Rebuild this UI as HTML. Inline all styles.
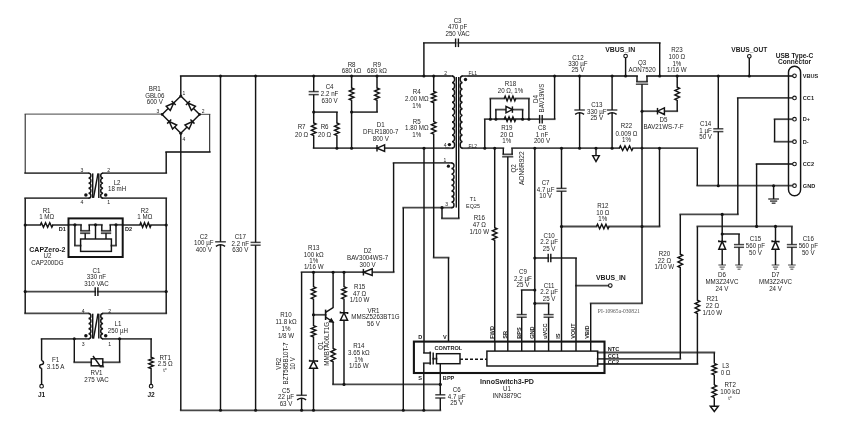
<!DOCTYPE html>
<html><head><meta charset="utf-8"><title>Schematic</title>
<style>
html,body{margin:0;padding:0;background:#fff;}
body{width:853px;height:437px;overflow:hidden;}
svg{display:block;will-change:transform;}
text{font-family:"Liberation Sans",sans-serif;fill:#1c1c1c;stroke:none;}
</style></head>
<body>
<svg width="853" height="437" viewBox="0 0 853 437">
<rect width="853" height="437" fill="#fff"/>
<g fill="none" stroke="#141414" stroke-width="1.45" stroke-linejoin="miter" stroke-linecap="butt">
<g stroke="#474747" stroke-width="1.8" stroke-linecap="square">
<path d="M74.3,362.3 L91.2,362.3"/>
<path d="M102.8,362.3 L119.6,362.3"/>
<path d="M100.6,366.6 L103.2,366.6"/>
<path d="M25.2,313.4 L88.5,313.4"/>
<path d="M41.6,338.9 L88.5,338.9"/>
<path d="M103.1,313.4 L166.2,313.4"/>
<path d="M103.1,338.9 L151.1,338.9"/>
<path d="M25.2,291.6 L95.2,291.6"/>
<path d="M97.9,291.6 L166.2,291.6"/>
<path d="M25.2,225 L40.3,225"/>
<path d="M52.9,225 L68.5,225"/>
<path d="M122.7,225 L139.8,225"/>
<path d="M151.1,225 L166.2,225"/>
<path d="M68.5,224.8 L81,224.8"/>
<path d="M89.3,224.8 L101.8,224.8"/>
<path d="M110.3,224.8 L122.7,224.8"/>
<path d="M81,230.8 L89.3,230.8"/>
<path d="M81,233.2 L89.3,233.2"/>
<path d="M101.8,230.8 L110.3,230.8"/>
<path d="M101.8,233.2 L110.3,233.2"/>
<path d="M74.9,245.6 L80.6,245.6"/>
<path d="M116,245.6 L111.4,245.6"/>
<path d="M25.2,173.1 L88.5,173.1"/>
<path d="M25.2,198.2 L88.5,198.2"/>
<path d="M103.1,173.1 L166.2,173.1"/>
<path d="M103.1,198.2 L166.2,198.2"/>
<path d="M25.2,114.2 L162.1,114.2" stroke-width="1.25" stroke="#6a6a6a"/>
<path d="M199.6,114.4 L209.7,114.4" stroke-width="1.25" stroke="#6a6a6a"/>
<path d="M209.7,152 L166.2,152"/>
<path d="M180.8,76 L450,76"/>
<path d="M180.8,410.3 L440.3,410.3"/>
<path d="M215.9,241.8 L225.1,241.8" stroke-width="1.5"/>
<path d="M251.3,242.4 L259.9,242.4" stroke-width="1.5"/>
<path d="M251.3,245.2 L259.9,245.2" stroke-width="1.5"/>
<path d="M309.4,91.6 L318,91.6" stroke-width="1.5"/>
<path d="M309.4,94.6 L318,94.6" stroke-width="1.5"/>
<path d="M313.7,112.1 L336.9,112.1"/>
<path d="M313.7,148.2 L377,148.2"/>
<path d="M384.6,148.2 L448.5,148.2"/>
<path d="M351.6,112.1 L377,112.1"/>
<path d="M423.9,42.8 L455.6,42.8"/>
<path d="M458.4,42.8 L659.7,42.8"/>
<path d="M433.7,257.6 L448.5,257.6"/>
<path d="M446,76 L452,76"/>
<path d="M452,148.2 L446,148.2"/>
<path d="M468.5,76 L462.6,76"/>
<path d="M462.6,148.2 L468.5,148.2"/>
<path d="M393.6,162.9 L451.4,162.9"/>
<path d="M451.4,207.7 L403.3,207.7"/>
<path d="M442,218.4 L458.7,218.4"/>
<path d="M393.6,272.2 L372.2,272.2"/>
<path d="M363.4,272.2 L301.6,272.2"/>
<path d="M297.1,395.3 L306.1,395.3" stroke-width="1.5"/>
<path d="M313.5,314.8 L325.6,314.8"/>
<path d="M333.1,384.4 L440.3,384.4"/>
<path d="M424,353 L430.2,353"/>
<path d="M430.2,363.2 L423.8,363.2"/>
<path d="M433.2,358.7 L436.5,358.7"/>
<path d="M436,394.8 L444.6,394.8" stroke-width="1.5"/>
<path d="M436,398 L444.6,398" stroke-width="1.5"/>
<path d="M597.7,352.5 L714.3,352.5"/>
<path d="M597.7,358.8 L680.3,358.8"/>
<path d="M597.7,364 L697.4,364"/>
<path d="M468.5,76 L637,76"/>
<path d="M637,81.7 L647,81.7"/>
<path d="M647,76 L792.6,76"/>
<path d="M636.6,84.2 L647.4,84.2" stroke-width="1.5"/>
<path d="M642,303.4 L590.7,303.4"/>
<path d="M642,111.2 L657.5,111.2"/>
<path d="M664.4,111.2 L677.2,111.2"/>
<path d="M484.8,119.2 L539.6,119.2"/>
<path d="M542.2,119.2 L554.6,119.2"/>
<path d="M495.9,119.2 L504.2,119.2"/>
<path d="M515.8,119.2 L522.6,119.2"/>
<path d="M490.4,98.5 L504.2,98.5"/>
<path d="M515.8,98.5 L528.9,98.5"/>
<path d="M495.9,109.6 L506,109.6"/>
<path d="M512.4,109.6 L522.6,109.6"/>
<path d="M468.5,148.2 L503.3,148.2"/>
<path d="M503.3,154.4 L512.1,154.4"/>
<path d="M502.9,156.8 L512.5,156.8" stroke-width="1.5"/>
<path d="M512.1,148.2 L619.2,148.2"/>
<path d="M633,148.2 L697.3,148.2"/>
<path d="M697.3,185.7 L792.6,185.7"/>
<path d="M575.1,110 L584.1,110" stroke-width="1.5"/>
<path d="M607.6,110 L616.6,110" stroke-width="1.5"/>
<path d="M557.2,188.4 L565.8,188.4" stroke-width="1.5"/>
<path d="M557.2,191.2 L565.8,191.2" stroke-width="1.5"/>
<path d="M561.5,226.5 L596.5,226.5"/>
<path d="M609.1,226.5 L659.5,226.5"/>
<path d="M534.8,258 L548.2,258"/>
<path d="M550.8,258 L576,258"/>
<path d="M576,285.6 L608.5,285.6"/>
<path d="M534.8,290 L521.7,290"/>
<path d="M517.4,314.6 L526,314.6" stroke-width="1.5"/>
<path d="M517.4,317.2 L526,317.2" stroke-width="1.5"/>
<path d="M534.8,303.4 L548.6,303.4"/>
<path d="M544.3,314.6 L552.9,314.6" stroke-width="1.5"/>
<path d="M544.3,317.2 L552.9,317.2" stroke-width="1.5"/>
<path d="M714,128.8 L722.6,128.8" stroke-width="1.5"/>
<path d="M714,131.6 L722.6,131.6" stroke-width="1.5"/>
<path d="M792.7,97.9 L737.8,97.9"/>
<path d="M737.8,214.4 L680.3,214.4"/>
<path d="M792.7,119.2 L774.6,119.2"/>
<path d="M774.6,141.7 L792.7,141.7"/>
<path d="M792.7,164 L756.6,164"/>
<path d="M697.4,226.4 L791.9,226.4"/>
<path d="M769,199 L778.2,199" stroke-width="1.5"/>
<path d="M770.75,201.1 L776.45,201.1" stroke-width="1.5"/>
<path d="M772.45,203.2 L774.75,203.2" stroke-width="1.5"/>
<path d="M722.2,234 L739,234"/>
<path d="M734.7,244.6 L743.3,244.6" stroke-width="1.5"/>
<path d="M734.7,247.3 L743.3,247.3" stroke-width="1.5"/>
<path d="M719,265 L725.4,265" stroke-width="1.25" stroke="#6a6a6a"/>
<path d="M720.22,267.1 L724.18,267.1" stroke-width="1.25" stroke="#6a6a6a"/>
<path d="M721.4,269.2 L723,269.2" stroke-width="1.25" stroke="#6a6a6a"/>
<path d="M735.8,265 L742.2,265" stroke-width="1.25" stroke="#6a6a6a"/>
<path d="M737.02,267.1 L740.98,267.1" stroke-width="1.25" stroke="#6a6a6a"/>
<path d="M738.2,269.2 L739.8,269.2" stroke-width="1.25" stroke="#6a6a6a"/>
<path d="M787.6,244.6 L796.2,244.6" stroke-width="1.5"/>
<path d="M787.6,247.3 L796.2,247.3" stroke-width="1.5"/>
<path d="M772.3,265 L778.7,265" stroke-width="1.25" stroke="#6a6a6a"/>
<path d="M773.52,267.1 L777.48,267.1" stroke-width="1.25" stroke="#6a6a6a"/>
<path d="M774.7,269.2 L776.3,269.2" stroke-width="1.25" stroke="#6a6a6a"/>
<path d="M788.7,265 L795.1,265" stroke-width="1.25" stroke="#6a6a6a"/>
<path d="M789.92,267.1 L793.88,267.1" stroke-width="1.25" stroke="#6a6a6a"/>
<path d="M791.1,269.2 L792.7,269.2" stroke-width="1.25" stroke="#6a6a6a"/>
</g>
<circle cx="41.6" cy="386.2" r="1.8" fill="#fff" stroke-width="1.1"/>
<text font-size="6.6" text-anchor="middle" transform="translate(41.6 394.2) translate(0 2.38)" font-weight="bold">J1</text>
<path d="M41.6,384.4 L41.6,368.2"/>
<path d="M41.6,368.2 A1.9,1.9 0 0 1 41.6,364.4 A1.9,1.9 0 0 0 41.6,360.6"/>
<path d="M41.6,360.6 L41.6,338.8"/>
<text font-size="6.2" text-anchor="middle" transform="translate(55.6 359.7) translate(0 2.39) scale(1 1.07)">F1</text>
<text font-size="6.2" text-anchor="middle" transform="translate(55.6 366.4) translate(0 2.39) scale(1 1.07)">3.15 A</text>
<path d="M74.3,338.8 L74.3,362.3"/>
<path d="M119.6,362.3 L119.6,338.8"/>
<rect x="91.2" y="358.8" width="11.6" height="7"/>
<path d="M93,356 L100.6,366.6"/>
<circle cx="74.3" cy="338.8" r="1.55" fill="#141414" stroke="none"/>
<circle cx="119.6" cy="338.8" r="1.55" fill="#141414" stroke="none"/>
<text font-size="6.2" text-anchor="middle" transform="translate(96.5 373.1) translate(0 2.39) scale(1 1.07)">RV1</text>
<text font-size="6.2" text-anchor="middle" transform="translate(96.5 379.9) translate(0 2.39) scale(1 1.07)">275 VAC</text>
<path d="M151.1,338.8 L151.1,357.2 L153.4,358.15 L148.8,360.05 L153.4,361.95 L148.8,363.85 L153.4,365.75 L148.8,367.65 L151.1,368.6 L151.1,384.4"/>
<circle cx="151.1" cy="386.2" r="1.8" fill="#fff" stroke-width="1.1"/>
<text font-size="6.6" text-anchor="middle" transform="translate(151.1 394.2) translate(0 2.38)" font-weight="bold">J2</text>
<text font-size="6.2" text-anchor="middle" transform="translate(165.2 357.2) translate(0 2.39) scale(1 1.07)">RT1</text>
<text font-size="6.2" text-anchor="middle" transform="translate(165.2 363.5) translate(0 2.39) scale(1 1.07)">2.5 Ω</text>
<text font-size="5.5" text-anchor="middle" transform="translate(165.2 370.3) translate(0 2.12) scale(1 1.07)">t°</text>
<path d="M88.5,313.4 A2.4,2.55 0 0 1 88.5,318.5 A2.4,2.55 0 0 1 88.5,323.6 A2.4,2.55 0 0 1 88.5,328.7 A2.4,2.55 0 0 1 88.5,333.8 A2.4,2.55 0 0 1 88.5,338.9"/>
<path d="M103.1,313.4 A2.4,2.55 0 0 0 103.1,318.5 A2.4,2.55 0 0 0 103.1,323.6 A2.4,2.55 0 0 0 103.1,328.7 A2.4,2.55 0 0 0 103.1,333.8 A2.4,2.55 0 0 0 103.1,338.9"/>
<path d="M92.7,313.7 L92.7,338.6"/>
<path d="M93.5,338.6 L98,313.7"/>
<path d="M98.8,313.7 L98.8,338.6"/>
<circle cx="85.9" cy="335.8" r="1.75" fill="#141414" stroke="none"/>
<circle cx="105.7" cy="335.8" r="1.75" fill="#141414" stroke="none"/>
<text font-size="5.2" text-anchor="middle" transform="translate(83.1 310.6) translate(0 2) scale(1 1.07)">4</text>
<text font-size="5.2" text-anchor="middle" transform="translate(109.6 310.6) translate(0 2) scale(1 1.07)">2</text>
<text font-size="5.2" text-anchor="middle" transform="translate(83.1 343.6) translate(0 2) scale(1 1.07)">3</text>
<text font-size="5.2" text-anchor="middle" transform="translate(109.6 343.6) translate(0 2) scale(1 1.07)">1</text>
<text font-size="6.2" text-anchor="middle" transform="translate(117.9 324) translate(0 2.39) scale(1 1.07)">L1</text>
<text font-size="6.2" text-anchor="middle" transform="translate(117.9 330.4) translate(0 2.39) scale(1 1.07)">250 µH</text>
<path d="M95.2,287.3 L95.2,295.9" stroke-width="1.4"/>
<path d="M97.9,287.3 L97.9,295.9" stroke-width="1.4"/>
<circle cx="25.2" cy="291.6" r="1.55" fill="#141414" stroke="none"/>
<circle cx="166.2" cy="291.6" r="1.55" fill="#141414" stroke="none"/>
<text font-size="6.2" text-anchor="middle" transform="translate(96.5 270.2) translate(0 2.39) scale(1 1.07)">C1</text>
<text font-size="6.2" text-anchor="middle" transform="translate(96.5 277) translate(0 2.39) scale(1 1.07)">330 nF</text>
<text font-size="6.2" text-anchor="middle" transform="translate(96.5 283.6) translate(0 2.39) scale(1 1.07)">310 VAC</text>
<path d="M25.2,114.2 L25.2,173.1" stroke-width="1"/>
<path d="M25.2,198.2 L25.2,313.4"/>
<path d="M166.2,152 L166.2,173.1"/>
<path d="M166.2,198.2 L166.2,313.4"/>
<path d="M40.3,225 L41.35,222.7 L43.45,227.3 L45.55,222.7 L47.65,227.3 L49.75,222.7 L51.85,227.3 L52.9,225"/>
<path d="M139.8,225 L140.74,222.7 L142.62,227.3 L144.51,222.7 L146.39,227.3 L148.28,222.7 L150.16,227.3 L151.1,225"/>
<circle cx="25.2" cy="225" r="1.55" fill="#141414" stroke="none"/>
<circle cx="166.2" cy="225" r="1.55" fill="#141414" stroke="none"/>
<text font-size="6.2" text-anchor="middle" transform="translate(46.6 210.4) translate(0 2.39) scale(1 1.07)">R1</text>
<text font-size="6.2" text-anchor="middle" transform="translate(46.6 216.7) translate(0 2.39) scale(1 1.07)">1 MΩ</text>
<text font-size="6.2" text-anchor="middle" transform="translate(144.8 210.4) translate(0 2.39) scale(1 1.07)">R2</text>
<text font-size="6.2" text-anchor="middle" transform="translate(144.8 216.7) translate(0 2.39) scale(1 1.07)">1 MΩ</text>
<rect x="68.5" y="218.4" width="54.2" height="38.6" stroke-width="2"/>
<text font-size="5.6" text-anchor="middle" transform="translate(62.3 228.9) translate(0 2.02)" font-weight="bold">D1</text>
<text font-size="5.6" text-anchor="middle" transform="translate(128.6 228.9) translate(0 2.02)" font-weight="bold">D2</text>
<path d="M81,224.8 L81,230.8"/>
<path d="M89.3,230.8 L89.3,224.8"/>
<path d="M85.2,233.2 L85.2,239"/>
<path d="M101.8,224.8 L101.8,230.8"/>
<path d="M110.3,230.8 L110.3,224.8"/>
<path d="M106,233.2 L106,239"/>
<path d="M74.9,224.8 L74.9,245.6"/>
<path d="M95.5,224.8 L95.5,239"/>
<path d="M116,224.8 L116,245.6"/>
<rect x="80.6" y="239" width="30.8" height="12.4"/>
<circle cx="74.9" cy="224.8" r="1.6" fill="#141414" stroke="none"/>
<circle cx="95.5" cy="224.8" r="1.6" fill="#141414" stroke="none"/>
<circle cx="116" cy="224.8" r="1.6" fill="#141414" stroke="none"/>
<text font-size="7" text-anchor="middle" transform="translate(47.4 249.6) translate(0 2.52)" font-weight="bold">CAPZero-2</text>
<text font-size="6.2" text-anchor="middle" transform="translate(47.4 256) translate(0 2.39) scale(1 1.07)">U2</text>
<text font-size="6.2" text-anchor="middle" transform="translate(47.4 262.7) translate(0 2.39) scale(1 1.07)">CAP200DG</text>
<path d="M88.5,173.1 A2.4,2.51 0 0 1 88.5,178.12 A2.4,2.51 0 0 1 88.5,183.14 A2.4,2.51 0 0 1 88.5,188.16 A2.4,2.51 0 0 1 88.5,193.18 A2.4,2.51 0 0 1 88.5,198.2"/>
<path d="M103.1,173.1 A2.4,2.51 0 0 0 103.1,178.12 A2.4,2.51 0 0 0 103.1,183.14 A2.4,2.51 0 0 0 103.1,188.16 A2.4,2.51 0 0 0 103.1,193.18 A2.4,2.51 0 0 0 103.1,198.2"/>
<path d="M92.7,173.4 L92.7,197.9"/>
<path d="M93.5,197.9 L98,173.4"/>
<path d="M98.8,173.4 L98.8,197.9"/>
<circle cx="85.9" cy="195.1" r="1.75" fill="#141414" stroke="none"/>
<circle cx="105.7" cy="195.1" r="1.75" fill="#141414" stroke="none"/>
<text font-size="5.2" text-anchor="middle" transform="translate(81.9 169.8) translate(0 2) scale(1 1.07)">3</text>
<text font-size="5.2" text-anchor="middle" transform="translate(108.8 169.8) translate(0 2) scale(1 1.07)">2</text>
<text font-size="5.2" text-anchor="middle" transform="translate(81.9 202) translate(0 2) scale(1 1.07)">4</text>
<text font-size="5.2" text-anchor="middle" transform="translate(108.8 202) translate(0 2) scale(1 1.07)">1</text>
<text font-size="6.2" text-anchor="middle" transform="translate(117.1 182.2) translate(0 2.39) scale(1 1.07)">L2</text>
<text font-size="6.2" text-anchor="middle" transform="translate(117.1 188.6) translate(0 2.39) scale(1 1.07)">18 mH</text>
<path d="M162.1,114.4 L180.8,96 L199.6,114.4 L180.8,133.3 L162.1,114.4"/>
<path d="M170.3,110.4 L166.24,106.26 L173.69,102.99 Z" fill="#fff"/>
<path d="M175.73,105.06 L171.66,100.92"/>
<path d="M195.42,106.26 L191.37,110.4 L187.94,102.99 Z" fill="#fff"/>
<path d="M189.97,100.92 L185.92,105.06"/>
<path d="M176.69,125.02 L172.57,129.1 L169.21,121.58 Z" fill="#fff"/>
<path d="M171.27,119.54 L167.14,123.62"/>
<path d="M189.06,129.11 L184.95,125.02 L192.46,121.58 Z" fill="#fff"/>
<path d="M194.51,123.63 L190.4,119.54"/>
<circle cx="180.8" cy="96" r="1.5" fill="#141414" stroke="none"/>
<circle cx="180.8" cy="133.3" r="1.5" fill="#141414" stroke="none"/>
<circle cx="162.1" cy="114.4" r="1.3" fill="#141414" stroke="none"/>
<circle cx="199.6" cy="114.4" r="1.3" fill="#141414" stroke="none"/>
<path d="M209.7,114.4 L209.7,152" stroke-width="1"/>
<path d="M180.8,96 L180.8,76"/>
<path d="M180.8,133.3 L180.8,410.3"/>
<text font-size="6.2" text-anchor="middle" transform="translate(154.8 88.6) translate(0 2.39) scale(1 1.07)">BR1</text>
<text font-size="6.2" text-anchor="middle" transform="translate(154.8 95.3) translate(0 2.39) scale(1 1.07)">GBL06</text>
<text font-size="6.2" text-anchor="middle" transform="translate(154.8 101.7) translate(0 2.39) scale(1 1.07)">600 V</text>
<text font-size="5" text-anchor="middle" transform="translate(183.9 92.6) translate(0 1.93) scale(1 1.07)">1</text>
<text font-size="5" text-anchor="middle" transform="translate(158 110.8) translate(0 1.93) scale(1 1.07)">3</text>
<text font-size="5" text-anchor="middle" transform="translate(203.2 110.8) translate(0 1.93) scale(1 1.07)">2</text>
<text font-size="5" text-anchor="middle" transform="translate(183.9 139.2) translate(0 1.93) scale(1 1.07)">4</text>
<path d="M220.5,76 L220.5,241.8"/>
<path d="M220.5,244.8 L220.5,410.3"/>
<path d="M215.9,246.3 Q220.5,243.3 225.1,246.3" stroke-width="1.4"/>
<path d="M255.6,76 L255.6,242.4"/>
<path d="M255.6,245.2 L255.6,410.3"/>
<circle cx="220.5" cy="76" r="1.55" fill="#141414" stroke="none"/>
<circle cx="255.6" cy="76" r="1.55" fill="#141414" stroke="none"/>
<circle cx="220.5" cy="410.3" r="1.55" fill="#141414" stroke="none"/>
<circle cx="255.6" cy="410.3" r="1.55" fill="#141414" stroke="none"/>
<text font-size="6.2" text-anchor="middle" transform="translate(203.8 236.4) translate(0 2.39) scale(1 1.07)">C2</text>
<text font-size="6.2" text-anchor="middle" transform="translate(203.8 243) translate(0 2.39) scale(1 1.07)">100 µF</text>
<text font-size="6.2" text-anchor="middle" transform="translate(203.8 249.7) translate(0 2.39) scale(1 1.07)">400 V</text>
<text font-size="6.2" text-anchor="middle" transform="translate(240.3 236.4) translate(0 2.39) scale(1 1.07)">C17</text>
<text font-size="6.2" text-anchor="middle" transform="translate(240.3 243.2) translate(0 2.39) scale(1 1.07)">2.2 nF</text>
<text font-size="6.2" text-anchor="middle" transform="translate(240.3 250) translate(0 2.39) scale(1 1.07)">630 V</text>
<path d="M313.7,76 L313.7,91.6"/>
<path d="M313.7,94.6 L313.7,112.1"/>
<circle cx="313.7" cy="76" r="1.55" fill="#141414" stroke="none"/>
<circle cx="313.7" cy="112.1" r="1.55" fill="#141414" stroke="none"/>
<path d="M313.7,112.1 L313.7,123 L316,124.05 L311.4,126.15 L316,128.25 L311.4,130.35 L316,132.45 L311.4,134.55 L313.7,135.6 L313.7,148.2"/>
<path d="M336.9,112.1 L336.9,123 L339.2,124.05 L334.6,126.15 L339.2,128.25 L334.6,130.35 L339.2,132.45 L334.6,134.55 L336.9,135.6 L336.9,148.2"/>
<path d="M384.6,144.9 L384.6,151.5 L377,148.2 Z" fill="#fff"/>
<path d="M377,144.9 L377,151.5"/>
<circle cx="336.9" cy="148.2" r="1.55" fill="#141414" stroke="none"/>
<circle cx="351.6" cy="148.2" r="1.55" fill="#141414" stroke="none"/>
<circle cx="424" cy="148.2" r="1.55" fill="#141414" stroke="none"/>
<path d="M351.6,76 L351.6,88 L353.9,89.03 L349.3,91.08 L353.9,93.12 L349.3,95.17 L353.9,97.22 L349.3,99.27 L351.6,100.3 L351.6,148.2"/>
<path d="M377,76 L377,88 L379.3,89.03 L374.7,91.08 L379.3,93.12 L374.7,95.17 L379.3,97.22 L374.7,99.27 L377,100.3 L377,112.1"/>
<circle cx="351.6" cy="76" r="1.55" fill="#141414" stroke="none"/>
<circle cx="377" cy="76" r="1.55" fill="#141414" stroke="none"/>
<circle cx="351.6" cy="112.1" r="1.55" fill="#141414" stroke="none"/>
<text font-size="6.2" text-anchor="middle" transform="translate(351.6 64.4) translate(0 2.39) scale(1 1.07)">R8</text>
<text font-size="6.2" text-anchor="middle" transform="translate(351.6 71) translate(0 2.39) scale(1 1.07)">680 kΩ</text>
<text font-size="6.2" text-anchor="middle" transform="translate(377 64.4) translate(0 2.39) scale(1 1.07)">R9</text>
<text font-size="6.2" text-anchor="middle" transform="translate(377 71) translate(0 2.39) scale(1 1.07)">680 kΩ</text>
<text font-size="6.2" text-anchor="middle" transform="translate(329.6 86.4) translate(0 2.39) scale(1 1.07)">C4</text>
<text font-size="6.2" text-anchor="middle" transform="translate(329.6 93.2) translate(0 2.39) scale(1 1.07)">2.2 nF</text>
<text font-size="6.2" text-anchor="middle" transform="translate(329.6 100.2) translate(0 2.39) scale(1 1.07)">630 V</text>
<text font-size="6.2" text-anchor="middle" transform="translate(301.6 126.8) translate(0 2.39) scale(1 1.07)">R7</text>
<text font-size="6.2" text-anchor="middle" transform="translate(301.6 134.2) translate(0 2.39) scale(1 1.07)">20 Ω</text>
<text font-size="6.2" text-anchor="middle" transform="translate(324.6 126.8) translate(0 2.39) scale(1 1.07)">R6</text>
<text font-size="6.2" text-anchor="middle" transform="translate(324.6 134.2) translate(0 2.39) scale(1 1.07)">20 Ω</text>
<text font-size="6.2" text-anchor="middle" transform="translate(380.8 124.5) translate(0 2.39) scale(1 1.07)">D1</text>
<text font-size="6.2" text-anchor="middle" transform="translate(380.8 131.5) translate(0 2.39) scale(1 1.07)">DFLR1800-7</text>
<text font-size="6.2" text-anchor="middle" transform="translate(380.8 138.5) translate(0 2.39) scale(1 1.07)">800 V</text>
<path d="M423.9,76 L423.9,42.8"/>
<path d="M455.6,38.5 L455.6,47.1" stroke-width="1.4"/>
<path d="M458.4,38.5 L458.4,47.1" stroke-width="1.4"/>
<path d="M659.7,42.8 L659.7,76"/>
<circle cx="423.9" cy="76" r="1.55" fill="#141414" stroke="none"/>
<circle cx="659.7" cy="76" r="1.55" fill="#141414" stroke="none"/>
<text font-size="6.2" text-anchor="middle" transform="translate(457.6 20.2) translate(0 2.39) scale(1 1.07)">C3</text>
<text font-size="6.2" text-anchor="middle" transform="translate(457.6 26.6) translate(0 2.39) scale(1 1.07)">470 pF</text>
<text font-size="6.2" text-anchor="middle" transform="translate(457.6 33.4) translate(0 2.39) scale(1 1.07)">250 VAC</text>
<path d="M433.7,76 L433.7,91.4 L436,92.35 L431.4,94.25 L436,96.15 L431.4,98.05 L436,99.95 L431.4,101.85 L433.7,102.8 L433.7,112"/>
<path d="M433.7,112 L433.7,121.6 L436,122.65 L431.4,124.75 L436,126.85 L431.4,128.95 L436,131.05 L431.4,133.15 L433.7,134.2 L433.7,257.6"/>
<path d="M448.5,257.6 L448.5,341.6"/>
<circle cx="433.7" cy="76" r="1.55" fill="#141414" stroke="none"/>
<text font-size="6.2" text-anchor="middle" transform="translate(416.8 92) translate(0 2.39) scale(1 1.07)">R4</text>
<text font-size="6.2" text-anchor="middle" transform="translate(416.8 98.8) translate(0 2.39) scale(1 1.07)">2.00 MΩ</text>
<text font-size="6.2" text-anchor="middle" transform="translate(416.8 105.4) translate(0 2.39) scale(1 1.07)">1%</text>
<text font-size="6.2" text-anchor="middle" transform="translate(416.8 121.2) translate(0 2.39) scale(1 1.07)">R5</text>
<text font-size="6.2" text-anchor="middle" transform="translate(416.8 128) translate(0 2.39) scale(1 1.07)">1.80 MΩ</text>
<text font-size="6.2" text-anchor="middle" transform="translate(416.8 134.8) translate(0 2.39) scale(1 1.07)">1%</text>
<path d="M424,148.2 L424,353"/>
<path d="M452,76 A2.6,3.28 0 0 1 452,82.56 A2.6,3.28 0 0 1 452,89.13 A2.6,3.28 0 0 1 452,95.69 A2.6,3.28 0 0 1 452,102.25 A2.6,3.28 0 0 1 452,108.82 A2.6,3.28 0 0 1 452,115.38 A2.6,3.28 0 0 1 452,121.95 A2.6,3.28 0 0 1 452,128.51 A2.6,3.28 0 0 1 452,135.07 A2.6,3.28 0 0 1 452,141.64 A2.6,3.28 0 0 1 452,148.2"/>
<path d="M456.3,77 L456.3,207.6"/>
<path d="M458.7,77 L458.7,218.4"/>
<path d="M462.6,76 A2.4,3.28 0 0 0 462.6,82.56 A2.4,3.28 0 0 0 462.6,89.13 A2.4,3.28 0 0 0 462.6,95.69 A2.4,3.28 0 0 0 462.6,102.25 A2.4,3.28 0 0 0 462.6,108.82 A2.4,3.28 0 0 0 462.6,115.38 A2.4,3.28 0 0 0 462.6,121.95 A2.4,3.28 0 0 0 462.6,128.51 A2.4,3.28 0 0 0 462.6,135.07 A2.4,3.28 0 0 0 462.6,141.64 A2.4,3.28 0 0 0 462.6,148.2"/>
<circle cx="465.5" cy="79.5" r="1.7" fill="#141414" stroke="none"/>
<circle cx="449.4" cy="144.6" r="1.7" fill="#141414" stroke="none"/>
<text font-size="5" text-anchor="middle" transform="translate(445.6 72.6) translate(0 1.93) scale(1 1.07)">2</text>
<text font-size="5" text-anchor="middle" transform="translate(472.7 72.6) translate(0 1.93) scale(1 1.07)">FL1</text>
<text font-size="5" text-anchor="middle" transform="translate(445.2 145) translate(0 1.93) scale(1 1.07)">4</text>
<text font-size="5" text-anchor="middle" transform="translate(472.7 145.6) translate(0 1.93) scale(1 1.07)">FL2</text>
<path d="M451.4,162.9 A2.6,2.8 0 0 1 451.4,168.5 A2.6,2.8 0 0 1 451.4,174.1 A2.6,2.8 0 0 1 451.4,179.7 A2.6,2.8 0 0 1 451.4,185.3 A2.6,2.8 0 0 1 451.4,190.9 A2.6,2.8 0 0 1 451.4,196.5 A2.6,2.8 0 0 1 451.4,202.1 A2.6,2.8 0 0 1 451.4,207.7"/>
<circle cx="448.4" cy="166.2" r="1.6" fill="#141414" stroke="none"/>
<path d="M403.3,207.7 L403.3,410.3"/>
<circle cx="442" cy="207.7" r="1.6" fill="#141414" stroke="none"/>
<path d="M442,207.7 L442,218.4"/>
<text font-size="5" text-anchor="middle" transform="translate(444.8 159.6) translate(0 1.93) scale(1 1.07)">1</text>
<text font-size="5" text-anchor="middle" transform="translate(446.6 204.3) translate(0 1.93) scale(1 1.07)">3</text>
<text font-size="5.4" text-anchor="middle" transform="translate(473 199.4) translate(0 2.08) scale(1 1.07)">T1</text>
<text font-size="5.4" text-anchor="middle" transform="translate(473 205.7) translate(0 2.08) scale(1 1.07)">EQ25</text>
<path d="M393.6,162.9 L393.6,272.2"/>
<path d="M372.2,268.9 L372.2,275.5 L363.4,272.2 Z" fill="#fff"/>
<path d="M363.4,268.9 L363.4,275.5"/>
<path d="M301.6,272.2 L301.6,395.3"/>
<path d="M301.6,398.3 L301.6,410.3"/>
<path d="M297.1,399.8 Q301.6,396.8 306.1,399.8" stroke-width="1.4"/>
<circle cx="313.5" cy="272.2" r="1.55" fill="#141414" stroke="none"/>
<circle cx="333.1" cy="272.2" r="1.55" fill="#141414" stroke="none"/>
<circle cx="344" cy="272.2" r="1.55" fill="#141414" stroke="none"/>
<circle cx="301.6" cy="410.3" r="1.55" fill="#141414" stroke="none"/>
<circle cx="313.5" cy="410.3" r="1.55" fill="#141414" stroke="none"/>
<circle cx="403.3" cy="410.3" r="1.55" fill="#141414" stroke="none"/>
<circle cx="423.8" cy="410.3" r="1.55" fill="#141414" stroke="none"/>
<path d="M313.5,272.2 L313.5,286.6 L315.8,287.65 L311.2,289.75 L315.8,291.85 L311.2,293.95 L315.8,296.05 L311.2,298.15 L313.5,299.2 L313.5,314.8"/>
<path d="M313.5,314.8 L313.5,325.6 L315.8,326.55 L311.2,328.45 L315.8,330.35 L311.2,332.25 L315.8,334.15 L311.2,336.05 L313.5,337 L313.5,360.9"/>
<path d="M317.4,368.3 L309.6,368.3 L313.5,360.9 Z" fill="#fff"/>
<path d="M317.4,362.1 L317.4,360.9 L309.6,360.9 L309.6,359.7"/>
<path d="M313.5,368.1 L313.5,410.3"/>
<circle cx="313.5" cy="314.8" r="1.55" fill="#141414" stroke="none"/>
<path d="M325.6,309.6 L325.6,320" stroke-width="1.6"/>
<path d="M325.6,312.4 L333.1,307.6 L333.1,272.2"/>
<path d="M325.6,317.2 L333.1,322"/>
<path d="M333.1,322 L329.6,321.6 L331.3,319.0 Z" fill="#141414"/>
<path d="M333.1,322 L333.1,348.4 L335.4,349.52 L330.8,351.75 L335.4,353.98 L330.8,356.22 L335.4,358.45 L330.8,360.68 L333.1,361.8 L333.1,384.4"/>
<path d="M344,272.2 L344,286.6 L346.3,287.65 L341.7,289.75 L346.3,291.85 L341.7,293.95 L346.3,296.05 L341.7,298.15 L344,299.2 L344,312.8"/>
<path d="M347.6,320.2 L340.4,320.2 L344,312.8 Z" fill="#fff"/>
<path d="M347.6,314 L347.6,312.8 L340.4,312.8 L340.4,311.6"/>
<path d="M344,320.2 L344,384.4"/>
<circle cx="344" cy="384.4" r="1.55" fill="#141414" stroke="none"/>
<circle cx="440.3" cy="384.4" r="1.55" fill="#141414" stroke="none"/>
<text font-size="6.2" text-anchor="middle" transform="translate(313.7 247.6) translate(0 2.39) scale(1 1.07)">R13</text>
<text font-size="6.2" text-anchor="middle" transform="translate(313.7 254.4) translate(0 2.39) scale(1 1.07)">100 kΩ</text>
<text font-size="6.2" text-anchor="middle" transform="translate(313.7 260.8) translate(0 2.39) scale(1 1.07)">1%</text>
<text font-size="6.2" text-anchor="middle" transform="translate(313.7 267) translate(0 2.39) scale(1 1.07)">1/16 W</text>
<text font-size="6.2" text-anchor="middle" transform="translate(367.6 250.8) translate(0 2.39) scale(1 1.07)">D2</text>
<text font-size="6.2" text-anchor="middle" transform="translate(367.6 257.6) translate(0 2.39) scale(1 1.07)">BAV3004WS-7</text>
<text font-size="6.2" text-anchor="middle" transform="translate(367.6 264.2) translate(0 2.39) scale(1 1.07)">300 V</text>
<text font-size="6.2" text-anchor="middle" transform="translate(359.6 286.6) translate(0 2.39) scale(1 1.07)">R15</text>
<text font-size="6.2" text-anchor="middle" transform="translate(359.6 293.4) translate(0 2.39) scale(1 1.07)">47 Ω</text>
<text font-size="6.2" text-anchor="middle" transform="translate(359.6 300) translate(0 2.39) scale(1 1.07)">1/10 W</text>
<text font-size="6.2" text-anchor="middle" transform="translate(373.4 310.4) translate(0 2.39) scale(1 1.07)">VR1</text>
<text font-size="6.2" text-anchor="middle" transform="translate(375.4 316.6) translate(0 2.39) scale(1 1.07)">MMSZ5263BT1G</text>
<text font-size="6.2" text-anchor="middle" transform="translate(373.4 323.2) translate(0 2.39) scale(1 1.07)">56 V</text>
<text font-size="6.2" text-anchor="middle" transform="translate(286 315) translate(0 2.39) scale(1 1.07)">R10</text>
<text font-size="6.2" text-anchor="middle" transform="translate(286 321.9) translate(0 2.39) scale(1 1.07)">11.8 kΩ</text>
<text font-size="6.2" text-anchor="middle" transform="translate(286 328.7) translate(0 2.39) scale(1 1.07)">1%</text>
<text font-size="6.2" text-anchor="middle" transform="translate(286 335.3) translate(0 2.39) scale(1 1.07)">1/8 W</text>
<text font-size="6.2" text-anchor="middle" transform="translate(358.8 345.9) translate(0 2.39) scale(1 1.07)">R14</text>
<text font-size="6.2" text-anchor="middle" transform="translate(358.8 352.7) translate(0 2.39) scale(1 1.07)">3.65 kΩ</text>
<text font-size="6.2" text-anchor="middle" transform="translate(358.8 359.2) translate(0 2.39) scale(1 1.07)">1%</text>
<text font-size="6.2" text-anchor="middle" transform="translate(358.8 365.6) translate(0 2.39) scale(1 1.07)">1/16 W</text>
<text font-size="6.2" text-anchor="middle" transform="translate(320.6 345.6) rotate(-90) translate(0 2.39) scale(1 1.07)">Q1</text>
<text font-size="6.2" text-anchor="middle" transform="translate(326.6 343.8) rotate(-90) translate(0 2.39) scale(1 1.07)">MMBTA06LT1G</text>
<text font-size="6.2" text-anchor="middle" transform="translate(279 363.7) rotate(-90) translate(0 2.39) scale(1 1.07)">VR2</text>
<text font-size="6.2" text-anchor="middle" transform="translate(286 363.5) rotate(-90) translate(0 2.39) scale(1 1.07)">BZT585B10T-7</text>
<text font-size="6.2" text-anchor="middle" transform="translate(292.5 363.5) rotate(-90) translate(0 2.39) scale(1 1.07)">10 V</text>
<text font-size="6.2" text-anchor="middle" transform="translate(286 390.3) translate(0 2.39) scale(1 1.07)">C5</text>
<text font-size="6.2" text-anchor="middle" transform="translate(286 396.8) translate(0 2.39) scale(1 1.07)">22 µF</text>
<text font-size="6.2" text-anchor="middle" transform="translate(286 403.2) translate(0 2.39) scale(1 1.07)">63 V</text>
<rect x="413.9" y="341.6" width="190.6" height="31.4" stroke-width="2.1"/>
<rect x="486.9" y="351.1" width="110.8" height="14.9"/>
<rect x="436.5" y="353.7" width="23.5" height="10"/>
<path d="M460,359.2 L486.9,359.2" stroke-dasharray="3,2"/>
<text font-size="5.6" text-anchor="middle" transform="translate(448.4 347.9) translate(0 2.02)" font-weight="bold">CONTROL</text>
<path d="M430.2,351.4 L430.2,364.8" stroke-width="1.4"/>
<path d="M423.8,363.2 L423.8,410.3"/>
<path d="M433.2,352.6 L433.2,364.4"/>
<path d="M440.3,363.7 L440.3,384.4"/>
<path d="M440.3,384.4 L440.3,394.8"/>
<path d="M440.3,398 L440.3,410.3"/>
<text font-size="5.6" text-anchor="middle" transform="translate(420.2 336.6) translate(0 2.02)" font-weight="bold">D</text>
<text font-size="5.6" text-anchor="middle" transform="translate(444.8 336.6) translate(0 2.02)" font-weight="bold">V</text>
<text font-size="5.6" text-anchor="middle" transform="translate(420.2 377.8) translate(0 2.02)" font-weight="bold">S</text>
<text font-size="5.6" text-anchor="middle" transform="translate(448.6 377.8) translate(0 2.02)" font-weight="bold">BPP</text>
<text font-size="7.1" text-anchor="middle" transform="translate(507 381.9) translate(0 2.56)" font-weight="bold">InnoSwitch3-PD</text>
<text font-size="6.2" text-anchor="middle" transform="translate(507 388.8) translate(0 2.39) scale(1 1.07)">U1</text>
<text font-size="6.2" text-anchor="middle" transform="translate(507 395.7) translate(0 2.39) scale(1 1.07)">INN3879C</text>
<text font-size="6.2" text-anchor="middle" transform="translate(456.7 389.4) translate(0 2.39) scale(1 1.07)">C6</text>
<text font-size="6.2" text-anchor="middle" transform="translate(456.7 396.2) translate(0 2.39) scale(1 1.07)">4.7 µF</text>
<text font-size="6.2" text-anchor="middle" transform="translate(456.7 402.8) translate(0 2.39) scale(1 1.07)">25 V</text>
<path d="M494.9,341.6 L494.9,351.1"/>
<text font-size="5.6" text-anchor="start" transform="translate(491.7 338.8) rotate(-90) translate(0 2.02)" font-weight="bold">FWD</text>
<path d="M507.8,341.6 L507.8,351.1"/>
<text font-size="5.6" text-anchor="start" transform="translate(504.6 338.8) rotate(-90) translate(0 2.02)" font-weight="bold">SR</text>
<path d="M521.7,341.6 L521.7,351.1"/>
<text font-size="5.6" text-anchor="start" transform="translate(518.5 338.8) rotate(-90) translate(0 2.02)" font-weight="bold">BPS</text>
<path d="M534.8,341.6 L534.8,351.1"/>
<text font-size="5.6" text-anchor="start" transform="translate(531.6 338.8) rotate(-90) translate(0 2.02)" font-weight="bold">GND</text>
<path d="M548.6,341.6 L548.6,351.1"/>
<text font-size="5.6" text-anchor="start" transform="translate(545.4 338.8) rotate(-90) translate(0 2.02)" font-weight="bold">uVCC</text>
<path d="M561.5,341.6 L561.5,351.1"/>
<text font-size="5.6" text-anchor="start" transform="translate(558.3 338.8) rotate(-90) translate(0 2.02)" font-weight="bold">IS</text>
<path d="M576,341.6 L576,351.1"/>
<text font-size="5.6" text-anchor="start" transform="translate(572.8 338.8) rotate(-90) translate(0 2.02)" font-weight="bold">VOUT</text>
<path d="M590.7,341.6 L590.7,351.1"/>
<text font-size="5.6" text-anchor="start" transform="translate(586.7 338.8) rotate(-90) translate(0 2.02)" font-weight="bold">VB/D</text>
<text font-size="5.6" text-anchor="start" transform="translate(607.8 348.6) translate(0 2.02)" font-weight="bold">NTC</text>
<text font-size="5.6" text-anchor="start" transform="translate(607.8 355.6) translate(0 2.02)" font-weight="bold">CC1</text>
<text font-size="5.6" text-anchor="start" transform="translate(607.8 362) translate(0 2.02)" font-weight="bold">CC2</text>
<path d="M637,76 L637,81.7"/>
<path d="M647,81.7 L647,76"/>
<path d="M642,84.2 L642,303.4"/>
<path d="M590.7,303.4 L590.7,341.6"/>
<circle cx="625.6" cy="56" r="1.8" fill="#fff" stroke-width="1.1"/>
<path d="M625.6,57.8 L625.6,76"/>
<circle cx="625.6" cy="76" r="1.55" fill="#141414" stroke="none"/>
<text font-size="6.9" text-anchor="middle" transform="translate(620.2 49.4) translate(0 2.48)" font-weight="bold">VBUS_IN</text>
<text font-size="6.2" text-anchor="middle" transform="translate(642 62.2) translate(0 2.39) scale(1 1.07)">Q3</text>
<text font-size="6.2" text-anchor="middle" transform="translate(642 69.4) translate(0 2.39) scale(1 1.07)">AON7520</text>
<path d="M664.4,107.9 L664.4,114.5 L657.5,111.2 Z" fill="#fff"/>
<path d="M657.5,107.9 L657.5,114.5"/>
<path d="M677.2,76 L677.2,87.2 L679.5,88.3 L674.9,90.5 L679.5,92.7 L674.9,94.9 L679.5,97.1 L674.9,99.3 L677.2,100.4 L677.2,111.2"/>
<circle cx="642" cy="111.2" r="1.55" fill="#141414" stroke="none"/>
<circle cx="677.2" cy="76" r="1.55" fill="#141414" stroke="none"/>
<text font-size="6.2" text-anchor="middle" transform="translate(663.5 120) translate(0 2.39) scale(1 1.07)">D5</text>
<text font-size="6.2" text-anchor="middle" transform="translate(663.5 126.6) translate(0 2.39) scale(1 1.07)">BAV21WS-7-F</text>
<text font-size="6.2" text-anchor="middle" transform="translate(676.9 49.6) translate(0 2.39) scale(1 1.07)">R23</text>
<text font-size="6.2" text-anchor="middle" transform="translate(676.9 57) translate(0 2.39) scale(1 1.07)">100 Ω</text>
<text font-size="6.2" text-anchor="middle" transform="translate(676.9 63.4) translate(0 2.39) scale(1 1.07)">1%</text>
<text font-size="6.2" text-anchor="middle" transform="translate(676.9 69.8) translate(0 2.39) scale(1 1.07)">1/16 W</text>
<path d="M484.8,148.2 L484.8,119.2"/>
<path d="M539.6,114.9 L539.6,123.5" stroke-width="1.4"/>
<path d="M542.2,114.9 L542.2,123.5" stroke-width="1.4"/>
<path d="M554.6,119.2 L554.6,76"/>
<circle cx="554.6" cy="76" r="1.55" fill="#141414" stroke="none"/>
<circle cx="484.8" cy="148.2" r="1.55" fill="#141414" stroke="none"/>
<path d="M504.2,119.2 L505.17,116.9 L507.1,121.5 L509.03,116.9 L510.97,121.5 L512.9,116.9 L514.83,121.5 L515.8,119.2"/>
<path d="M490.4,119.2 L490.4,98.5"/>
<path d="M504.2,98.5 L504.2,98.5 L505.17,96.2 L507.1,100.8 L509.03,96.2 L510.97,100.8 L512.9,96.2 L514.83,100.8 L515.8,98.5 L515.8,98.5"/>
<path d="M528.9,98.5 L528.9,119.2"/>
<path d="M495.9,119.2 L495.9,109.6"/>
<path d="M506,112.8 L506,106.4 L512.4,109.6 Z" fill="#fff"/>
<path d="M512.4,112.8 L512.4,106.4"/>
<path d="M522.6,109.6 L522.6,119.2"/>
<circle cx="490.4" cy="119.2" r="1.55" fill="#141414" stroke="none"/>
<circle cx="495.9" cy="119.2" r="1.55" fill="#141414" stroke="none"/>
<circle cx="522.6" cy="119.2" r="1.55" fill="#141414" stroke="none"/>
<circle cx="528.9" cy="119.2" r="1.55" fill="#141414" stroke="none"/>
<text font-size="6.2" text-anchor="middle" transform="translate(510.5 83.4) translate(0 2.39) scale(1 1.07)">R18</text>
<text font-size="6.2" text-anchor="middle" transform="translate(510.5 90.2) translate(0 2.39) scale(1 1.07)">20 Ω, 1%</text>
<text font-size="6.2" text-anchor="middle" transform="translate(506.8 127.5) translate(0 2.39) scale(1 1.07)">R19</text>
<text font-size="6.2" text-anchor="middle" transform="translate(506.8 134.3) translate(0 2.39) scale(1 1.07)">20 Ω</text>
<text font-size="6.2" text-anchor="middle" transform="translate(506.8 141.1) translate(0 2.39) scale(1 1.07)">1%</text>
<text font-size="6.2" text-anchor="middle" transform="translate(542 127.5) translate(0 2.39) scale(1 1.07)">C8</text>
<text font-size="6.2" text-anchor="middle" transform="translate(542 134.3) translate(0 2.39) scale(1 1.07)">1 nF</text>
<text font-size="6.2" text-anchor="middle" transform="translate(542 141.1) translate(0 2.39) scale(1 1.07)">200 V</text>
<text font-size="6.2" text-anchor="middle" transform="translate(535.2 99) rotate(-90) translate(0 2.39) scale(1 1.07)">D4</text>
<text font-size="6.2" text-anchor="middle" transform="translate(542 98) rotate(-90) translate(0 2.39) scale(1 1.07)">BAV19WS</text>
<path d="M503.3,148.2 L503.3,154.4"/>
<path d="M512.1,154.4 L512.1,148.2"/>
<path d="M507.8,156.8 L507.8,341.6"/>
<path d="M619.2,148.2 L619.2,148.2 L620.35,145.9 L622.65,150.5 L624.95,145.9 L627.25,150.5 L629.55,145.9 L631.85,150.5 L633,148.2 L633,148.2"/>
<path d="M697.3,148.2 L697.3,185.7"/>
<text font-size="6.2" text-anchor="middle" transform="translate(513.9 168.4) rotate(-90) translate(0 2.39) scale(1 1.07)">Q2</text>
<text font-size="6.6" text-anchor="middle" transform="translate(521.2 168.2) rotate(-90) translate(0 2.54) scale(1 1.07)">AON6R922</text>
<circle cx="494.7" cy="148.2" r="1.55" fill="#141414" stroke="none"/>
<circle cx="534.8" cy="148.2" r="1.55" fill="#141414" stroke="none"/>
<circle cx="561.5" cy="148.2" r="1.55" fill="#141414" stroke="none"/>
<circle cx="579.6" cy="148.2" r="1.55" fill="#141414" stroke="none"/>
<circle cx="596" cy="148.2" r="1.55" fill="#141414" stroke="none"/>
<circle cx="612.1" cy="148.2" r="1.55" fill="#141414" stroke="none"/>
<circle cx="659.5" cy="148.2" r="1.55" fill="#141414" stroke="none"/>
<circle cx="642" cy="148.2" r="1.35" fill="#141414" stroke="none"/>
<text font-size="6.2" text-anchor="middle" transform="translate(626.5 125.7) translate(0 2.39) scale(1 1.07)">R22</text>
<text font-size="6.2" text-anchor="middle" transform="translate(626.5 133.2) translate(0 2.39) scale(1 1.07)">0.009 Ω</text>
<text font-size="6.2" text-anchor="middle" transform="translate(626.5 139.8) translate(0 2.39) scale(1 1.07)">1%</text>
<path d="M596,148.2 L596,155.6"/>
<path d="M592.7,155.6 L599.3,155.6 L596,161.6 Z" fill="#fff"/>
<path d="M579.6,76 L579.6,110"/>
<path d="M579.6,112.8 L579.6,148.2"/>
<path d="M575.1,114.3 Q579.6,111.3 584.1,114.3" stroke-width="1.4"/>
<path d="M612.1,76 L612.1,110"/>
<path d="M612.1,112.8 L612.1,148.2"/>
<path d="M607.6,114.3 Q612.1,111.3 616.6,114.3" stroke-width="1.4"/>
<circle cx="579.6" cy="76" r="1.55" fill="#141414" stroke="none"/>
<circle cx="612.1" cy="76" r="1.55" fill="#141414" stroke="none"/>
<text font-size="6.2" text-anchor="middle" transform="translate(577.9 57.2) translate(0 2.39) scale(1 1.07)">C12</text>
<text font-size="6.2" text-anchor="middle" transform="translate(577.9 63.6) translate(0 2.39) scale(1 1.07)">330 µF</text>
<text font-size="6.2" text-anchor="middle" transform="translate(577.9 69.6) translate(0 2.39) scale(1 1.07)">25 V</text>
<text font-size="6.2" text-anchor="middle" transform="translate(596.8 104.8) translate(0 2.39) scale(1 1.07)">C13</text>
<text font-size="6.2" text-anchor="middle" transform="translate(596.8 111.4) translate(0 2.39) scale(1 1.07)">330 µF</text>
<text font-size="6.2" text-anchor="middle" transform="translate(596.8 117.4) translate(0 2.39) scale(1 1.07)">25 V</text>
<path d="M494.7,148.2 L494.7,227.7 L497,228.75 L492.4,230.85 L497,232.95 L492.4,235.05 L497,237.15 L492.4,239.25 L494.7,240.3 L494.7,341.6"/>
<text font-size="6.2" text-anchor="middle" transform="translate(479.3 217.6) translate(0 2.39) scale(1 1.07)">R16</text>
<text font-size="6.2" text-anchor="middle" transform="translate(479.3 224.4) translate(0 2.39) scale(1 1.07)">47 Ω</text>
<text font-size="6.2" text-anchor="middle" transform="translate(479.3 231.4) translate(0 2.39) scale(1 1.07)">1/10 W</text>
<path d="M561.5,148.2 L561.5,188.4"/>
<path d="M561.5,191.2 L561.5,341.6"/>
<path d="M596.5,226.5 L597.55,224.2 L599.65,228.8 L601.75,224.2 L603.85,228.8 L605.95,224.2 L608.05,228.8 L609.1,226.5"/>
<path d="M659.5,226.5 L659.5,148.2"/>
<circle cx="561.5" cy="226.5" r="1.55" fill="#141414" stroke="none"/>
<circle cx="642" cy="226.5" r="1.55" fill="#141414" stroke="none"/>
<text font-size="6.2" text-anchor="middle" transform="translate(545.6 182.4) translate(0 2.39) scale(1 1.07)">C7</text>
<text font-size="6.2" text-anchor="middle" transform="translate(545.6 189.6) translate(0 2.39) scale(1 1.07)">4.7 µF</text>
<text font-size="6.2" text-anchor="middle" transform="translate(545.6 196) translate(0 2.39) scale(1 1.07)">10 V</text>
<text font-size="6.2" text-anchor="middle" transform="translate(602.8 205.6) translate(0 2.39) scale(1 1.07)">R12</text>
<text font-size="6.2" text-anchor="middle" transform="translate(602.8 212.4) translate(0 2.39) scale(1 1.07)">10 Ω</text>
<text font-size="6.2" text-anchor="middle" transform="translate(602.8 218.9) translate(0 2.39) scale(1 1.07)">1%</text>
<path d="M534.8,148.2 L534.8,341.6"/>
<path d="M548.2,253.7 L548.2,262.3" stroke-width="1.4"/>
<path d="M550.8,253.7 L550.8,262.3" stroke-width="1.4"/>
<path d="M576,258 L576,341.6"/>
<circle cx="534.8" cy="258" r="1.55" fill="#141414" stroke="none"/>
<circle cx="610.3" cy="285.6" r="1.8" fill="#fff" stroke-width="1.1"/>
<text font-size="6.9" text-anchor="middle" transform="translate(610.9 277.6) translate(0 2.48)" font-weight="bold">VBUS_IN</text>
<path d="M521.7,290 L521.7,314.6"/>
<path d="M521.7,317.2 L521.7,341.6"/>
<path d="M548.6,303.4 L548.6,314.6"/>
<path d="M548.6,317.2 L548.6,341.6"/>
<circle cx="534.8" cy="290" r="1.55" fill="#141414" stroke="none"/>
<circle cx="534.8" cy="303.4" r="1.55" fill="#141414" stroke="none"/>
<text font-size="6.2" text-anchor="middle" transform="translate(549.1 235.3) translate(0 2.39) scale(1 1.07)">C10</text>
<text font-size="6.2" text-anchor="middle" transform="translate(549.1 241.6) translate(0 2.39) scale(1 1.07)">2.2 µF</text>
<text font-size="6.2" text-anchor="middle" transform="translate(549.1 248.4) translate(0 2.39) scale(1 1.07)">25 V</text>
<text font-size="6.2" text-anchor="middle" transform="translate(522.9 271.8) translate(0 2.39) scale(1 1.07)">C9</text>
<text font-size="6.2" text-anchor="middle" transform="translate(522.9 278.6) translate(0 2.39) scale(1 1.07)">2.2 µF</text>
<text font-size="6.2" text-anchor="middle" transform="translate(522.9 285.1) translate(0 2.39) scale(1 1.07)">25 V</text>
<text font-size="6.2" text-anchor="middle" transform="translate(549.1 285.6) translate(0 2.39) scale(1 1.07)">C11</text>
<text font-size="6.2" text-anchor="middle" transform="translate(549.1 292) translate(0 2.39) scale(1 1.07)">2.2 µF</text>
<text font-size="6.2" text-anchor="middle" transform="translate(549.1 298.7) translate(0 2.39) scale(1 1.07)">25 V</text>
<text font-size="5.6" text-anchor="middle" transform="translate(618.8 311.3) translate(0 2.16) scale(1 1.07)" style="font-family:'Liberation Serif',serif;fill:#555">PI-10965a-030821</text>
<path d="M718.3,76 L718.3,128.8"/>
<path d="M718.3,131.6 L718.3,185.7"/>
<circle cx="718.3" cy="76" r="1.55" fill="#141414" stroke="none"/>
<circle cx="718.3" cy="185.7" r="1.55" fill="#141414" stroke="none"/>
<text font-size="6.2" text-anchor="middle" transform="translate(705.6 123.7) translate(0 2.39) scale(1 1.07)">C14</text>
<text font-size="6.2" text-anchor="middle" transform="translate(705.6 130.3) translate(0 2.39) scale(1 1.07)">1 µF</text>
<text font-size="6.2" text-anchor="middle" transform="translate(705.6 137) translate(0 2.39) scale(1 1.07)">50 V</text>
<circle cx="749.3" cy="56.3" r="1.8" fill="#fff" stroke-width="1.1"/>
<path d="M749.3,58.1 L749.3,76"/>
<circle cx="749.3" cy="76" r="1.55" fill="#141414" stroke="none"/>
<text font-size="6.6" text-anchor="middle" transform="translate(749.3 49.3) translate(0 2.38)" font-weight="bold">VBUS_OUT</text>
<text font-size="6.6" text-anchor="middle" transform="translate(794.5 55.3) translate(0 2.38)" font-weight="bold">USB Type-C</text>
<text font-size="6.6" text-anchor="middle" transform="translate(794.5 61.9) translate(0 2.38)" font-weight="bold">Connector</text>
<rect x="788.5" y="66.2" width="12.1" height="129.6" rx="6" ry="6"/>
<circle cx="794.5" cy="75.8" r="1.8" fill="#fff" stroke-width="1.1"/>
<text font-size="5.6" text-anchor="start" transform="translate(802.8 75.8) translate(0 2.02)" font-weight="bold">VBUS</text>
<circle cx="794.5" cy="97.9" r="1.8" fill="#fff" stroke-width="1.1"/>
<text font-size="5.6" text-anchor="start" transform="translate(802.8 97.9) translate(0 2.02)" font-weight="bold">CC1</text>
<circle cx="794.5" cy="119.2" r="1.8" fill="#fff" stroke-width="1.1"/>
<text font-size="5.6" text-anchor="start" transform="translate(802.8 119.2) translate(0 2.02)" font-weight="bold">D+</text>
<circle cx="794.5" cy="141.7" r="1.8" fill="#fff" stroke-width="1.1"/>
<text font-size="5.6" text-anchor="start" transform="translate(802.8 141.7) translate(0 2.02)" font-weight="bold">D-</text>
<circle cx="794.5" cy="164" r="1.8" fill="#fff" stroke-width="1.1"/>
<text font-size="5.6" text-anchor="start" transform="translate(802.8 164) translate(0 2.02)" font-weight="bold">CC2</text>
<circle cx="794.5" cy="185.7" r="1.8" fill="#fff" stroke-width="1.1"/>
<text font-size="5.6" text-anchor="start" transform="translate(802.8 185.7) translate(0 2.02)" font-weight="bold">GND</text>
<path d="M737.8,97.9 L737.8,214.4"/>
<path d="M680.3,214.4 L680.3,254.2 L682.6,255.31 L678,257.52 L682.6,259.74 L678,261.96 L682.6,264.18 L678,266.39 L680.3,267.5 L680.3,358.8"/>
<path d="M774.6,119.2 L774.6,141.7"/>
<path d="M756.6,164 L756.6,226.4"/>
<path d="M697.4,226.4 L697.4,300.2 L699.7,301.31 L695.1,303.52 L699.7,305.74 L695.1,307.96 L699.7,310.18 L695.1,312.39 L697.4,313.5 L697.4,364"/>
<circle cx="756.6" cy="226.4" r="1.55" fill="#141414" stroke="none"/>
<circle cx="775.5" cy="226.4" r="1.55" fill="#141414" stroke="none"/>
<circle cx="773.6" cy="185.7" r="1.55" fill="#141414" stroke="none"/>
<path d="M773.6,185.7 L773.6,199"/>
<circle cx="722.2" cy="214.4" r="1.55" fill="#141414" stroke="none"/>
<path d="M722.2,214.4 L722.2,241.4"/>
<path d="M725.6,249.2 L718.8,249.2 L722.2,241.4 Z" fill="#fff"/>
<path d="M725.6,242.6 L725.6,241.4 L718.8,241.4 L718.8,240.2"/>
<path d="M722.2,249.2 L722.2,265"/>
<circle cx="722.2" cy="234" r="1.55" fill="#141414" stroke="none"/>
<path d="M739,234 L739,244.6"/>
<path d="M739,247.3 L739,265"/>
<path d="M775.5,226.4 L775.5,241.4"/>
<path d="M778.9,249.2 L772.1,249.2 L775.5,241.4 Z" fill="#fff"/>
<path d="M778.9,242.6 L778.9,241.4 L772.1,241.4 L772.1,240.2"/>
<path d="M775.5,249.2 L775.5,265"/>
<path d="M791.9,226.4 L791.9,244.6"/>
<path d="M791.9,247.3 L791.9,265"/>
<text font-size="6.2" text-anchor="middle" transform="translate(755.4 239) translate(0 2.39) scale(1 1.07)">C15</text>
<text font-size="6.2" text-anchor="middle" transform="translate(755.4 245.8) translate(0 2.39) scale(1 1.07)">560 pF</text>
<text font-size="6.2" text-anchor="middle" transform="translate(755.4 252.4) translate(0 2.39) scale(1 1.07)">50 V</text>
<text font-size="6.2" text-anchor="middle" transform="translate(808.3 239) translate(0 2.39) scale(1 1.07)">C16</text>
<text font-size="6.2" text-anchor="middle" transform="translate(808.3 245.8) translate(0 2.39) scale(1 1.07)">560 pF</text>
<text font-size="6.2" text-anchor="middle" transform="translate(808.3 252.4) translate(0 2.39) scale(1 1.07)">50 V</text>
<text font-size="6.2" text-anchor="middle" transform="translate(721.9 274.3) translate(0 2.39) scale(1 1.07)">D6</text>
<text font-size="6.2" text-anchor="middle" transform="translate(721.9 281.4) translate(0 2.39) scale(1 1.07)">MM3Z24VC</text>
<text font-size="6.2" text-anchor="middle" transform="translate(721.9 288.2) translate(0 2.39) scale(1 1.07)">24 V</text>
<text font-size="6.2" text-anchor="middle" transform="translate(775.5 274.3) translate(0 2.39) scale(1 1.07)">D7</text>
<text font-size="6.2" text-anchor="middle" transform="translate(775.5 281.4) translate(0 2.39) scale(1 1.07)">MM3Z24VC</text>
<text font-size="6.2" text-anchor="middle" transform="translate(775.5 288.2) translate(0 2.39) scale(1 1.07)">24 V</text>
<text font-size="6.2" text-anchor="middle" transform="translate(664.4 253.7) translate(0 2.39) scale(1 1.07)">R20</text>
<text font-size="6.2" text-anchor="middle" transform="translate(664.4 260.5) translate(0 2.39) scale(1 1.07)">22 Ω</text>
<text font-size="6.2" text-anchor="middle" transform="translate(664.4 266.8) translate(0 2.39) scale(1 1.07)">1/10 W</text>
<text font-size="6.2" text-anchor="middle" transform="translate(712.4 298.9) translate(0 2.39) scale(1 1.07)">R21</text>
<text font-size="6.2" text-anchor="middle" transform="translate(712.4 305.4) translate(0 2.39) scale(1 1.07)">22 Ω</text>
<text font-size="6.2" text-anchor="middle" transform="translate(712.4 312.2) translate(0 2.39) scale(1 1.07)">1/10 W</text>
<path d="M714.3,352.5 L714.3,363.5"/>
<path d="M714.3,363.5 L714.3,363.5 L716.6,364.45 L712,366.35 L716.6,368.25 L712,370.15 L716.6,372.05 L712,373.95 L714.3,374.9 L714.3,374.9"/>
<path d="M714.3,374.9 L714.3,385"/>
<path d="M714.3,385 L714.3,385 L716.6,386.04 L712,388.12 L716.6,390.21 L712,392.29 L716.6,394.38 L712,396.46 L714.3,397.5 L714.3,397.5"/>
<path d="M714.3,397.5 L714.3,406.3"/>
<path d="M710.3,406.3 L718.3,406.3 L714.3,411.5 Z" fill="#fff"/>
<text font-size="6.2" text-anchor="middle" transform="translate(725.6 366) translate(0 2.39) scale(1 1.07)">L3</text>
<text font-size="6.2" text-anchor="middle" transform="translate(725.6 372.8) translate(0 2.39) scale(1 1.07)">0 Ω</text>
<text font-size="6.2" text-anchor="middle" transform="translate(730.2 384.4) translate(0 2.39) scale(1 1.07)">RT2</text>
<text font-size="6.2" text-anchor="middle" transform="translate(730.2 391.2) translate(0 2.39) scale(1 1.07)">100 kΩ</text>
<text font-size="5.5" text-anchor="middle" transform="translate(730.2 397.6) translate(0 2.12) scale(1 1.07)">t°</text>
</g>
</svg>
</body></html>
